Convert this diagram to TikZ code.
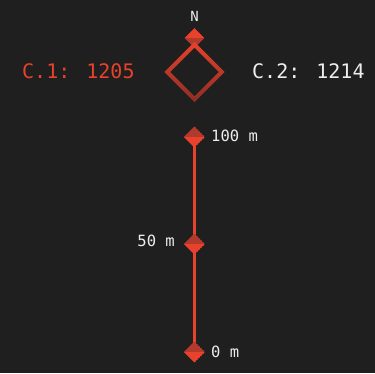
\documentclass[tikz,border=0pt]{standalone}
\usepackage{fontspec}
\setmainfont{DejaVu Sans Mono}
\usetikzlibrary{shapes.geometric,calc}
\definecolor{bg}{HTML}{1F1F1F}
\definecolor{bright}{HTML}{E8412C}
\definecolor{darkred}{HTML}{B23A2C}
\definecolor{deepred}{HTML}{8C2E24}
\definecolor{txt}{HTML}{EDEDED}
\tikzset{
  marker/.style={diamond, aspect=1, minimum size=21pt, inner sep=0pt,
    path picture={
      \fill[darkred] (path picture bounding box.west) -- (path picture bounding box.north) -- (path picture bounding box.east) -- cycle;
      \fill[bright] (path picture bounding box.west) -- (path picture bounding box.south) -- (path picture bounding box.east) -- cycle;
    }},
  northmark/.style={diamond, aspect=1, minimum size=20pt, inner sep=0pt,
    path picture={
      \fill[bright] (path picture bounding box.west) -- (path picture bounding box.north) -- (path picture bounding box.east) -- cycle;
      \fill[darkred] (path picture bounding box.west) -- (path picture bounding box.south) -- (path picture bounding box.east) -- cycle;
    }},
  lbl/.style={text=txt, font=\fontsize{15.5}{15.5}\selectfont, inner sep=0pt},
  count/.style={font=\fontsize{20}{20}\selectfont, inner sep=0pt},
  scaleline/.style={draw=bright, line width=2.2pt}
}
\begin{document}
\begin{tikzpicture}[x=1pt,y=1pt]
\fill[bg] (0,0) rectangle (375,-373);
\useasboundingbox (0,0) rectangle (375,-373);
% north
\node[text=txt, font=\fontsize{14}{14}\selectfont, inner sep=0pt] (ntext) at (194.5,-16) {N};
\node[northmark] (nmark) at (194.5,-38) {};
\node[diamond, aspect=1, minimum size=54pt, inner sep=0pt] (sq) at (194.5,-72) {};
\shade[top color=bright, middle color=bright, bottom color=deepred, even odd rule]
  ($(sq.north)+(0,2.83)$) -- ($(sq.east)+(2.83,0)$) -- ($(sq.south)+(0,-2.83)$) -- ($(sq.west)+(-2.83,0)$) -- cycle
  ($(sq.north)+(0,-2.83)$) -- ($(sq.east)+(-2.83,0)$) -- ($(sq.south)+(0,2.83)$) -- ($(sq.west)+(2.83,0)$) -- cycle;
% counts
\node[count, text=bright, anchor=west] (c1) at (22,-71) {C.1: 1205};
\node[count, text=txt, anchor=west] (c2) at (252,-71) {C.2: 1214};
% scale
\node[marker] (m100) at (194.5,-137) {};
\node[marker] (m50) at (194.5,-244) {};
\node[marker] (m0) at (194.5,-352) {};
\draw[scaleline] (m100.center) -- (m50.center);
\draw[scaleline] (m50.center) -- (m0.center);
\node[marker] at (m100) {};
\node[marker] at (m50) {};
\node[marker] at (m0) {};
\node[lbl, anchor=west] (l100) at (211,-136) {100 m};
\node[lbl, anchor=east] (l50) at (175,-241) {50 m};
\node[lbl, anchor=west] (l0) at (211,-352) {0 m};
\end{tikzpicture}
\end{document}
